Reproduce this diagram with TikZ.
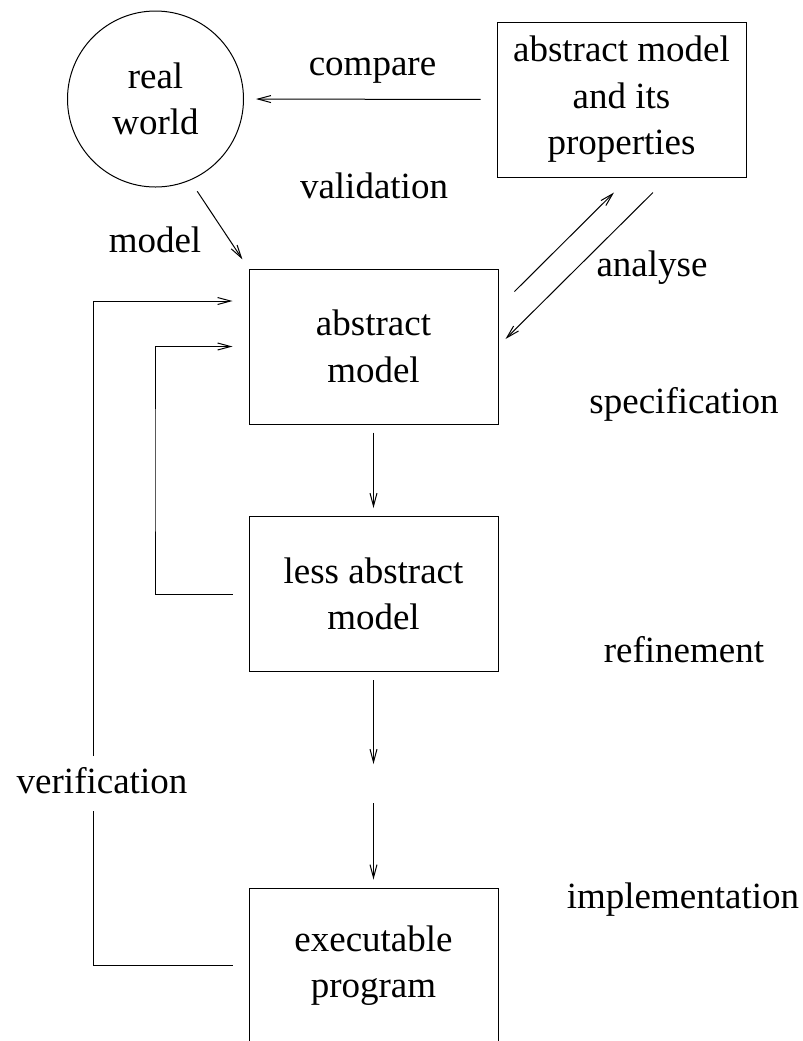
\documentclass[tikz,border=0pt]{standalone}
\usepackage{fontspec}
\setmainfont{Liberation Serif}
\usetikzlibrary{arrows.meta,shapes,positioning,calc}

\begin{document}
\begin{tikzpicture}[x=0.5pt, y=-0.5pt, line width=0.5pt,
    font=\fontsize{18.5}{23.25}\selectfont,
    >={Straight Barb[length=6.5pt,width=3.5pt]},
    box/.style={draw, minimum width=124.5pt, minimum height=77.5pt,
                inner sep=0pt, align=center},
    lbl/.style={anchor=base, inner sep=0pt}]
  \useasboundingbox (0,0) rectangle (803,1041);
  \clip (0,0) rectangle (803,1041);
  %% Nodes
  \node[draw, circle, minimum size=88pt, inner sep=0pt, align=center]
    (world) at (155.5,99) {real\\world};
  \node[box] (props)  at (621.5,99.5)  {abstract model\\and its\\properties};
  \node[box] (absmod) at (373.5,346.5) {abstract\\model};
  \node[box] (lessab) at (373.5,594)   {less abstract\\model};
  \node[box] (exe)    at (373.5,965.5) {executable\\program};
  \coordinate (gap) at (373.5,783);
  \coordinate (inx) at (155,470);
  \coordinate (vbot) at (93,811);
  \coordinate (vtop) at (93,756);
  \coordinate (otop) at (93,301);
  %% Labels
  \node[lbl] (cmp) at (372.5,75)  {compare};
  \node[lbl] (val) at (374,198)   {validation};
  \node[lbl] (mdl) at (155,252)   {model};
  \node[lbl] (ana) at (652,276)   {analyse};
  \node[lbl] (spc) at (684,413)   {specification};
  \node[lbl] (ref) at (684,662)   {refinement};
  \node[lbl] (imp) at (683,908)   {implementation};
  \node[lbl] (ver) at (102,793)   {verification};
  %% Arrows
  \draw[->, shorten <=8pt, shorten >=6pt] (props.west) -- (world.east);
  \draw[->, shorten <=6.5pt, shorten >=5.5pt] (world.-67) -- (absmod.north west);
  \draw[->] ($(absmod.north east)+(16,23)$) -- ($(props.south)+(-7.5,15)$);
  \draw[->] ($(props.south)+(31.5,15)$) -- ($(absmod.east)+(7,-7.5)$);
  \draw[->, shorten <=4pt, shorten >=4pt] (absmod.south) -- (lessab.north);
  \draw[->, shorten <=4pt, shorten >=9.5pt] (lessab.south) -- (gap);
  \draw[->, shorten <=10pt, shorten >=4pt] (gap) -- (exe.north);
  %% Feedback loops
  \draw[->, shorten <=8pt, shorten >=8pt] (lessab.west) -| (inx) |- (absmod.west);
  \draw[shorten <=8pt] (exe.west) -| (vbot);
  \draw[->, shorten >=8pt] (vtop) -- (otop) -- (absmod.west |- otop);
\end{tikzpicture}
\end{document}
